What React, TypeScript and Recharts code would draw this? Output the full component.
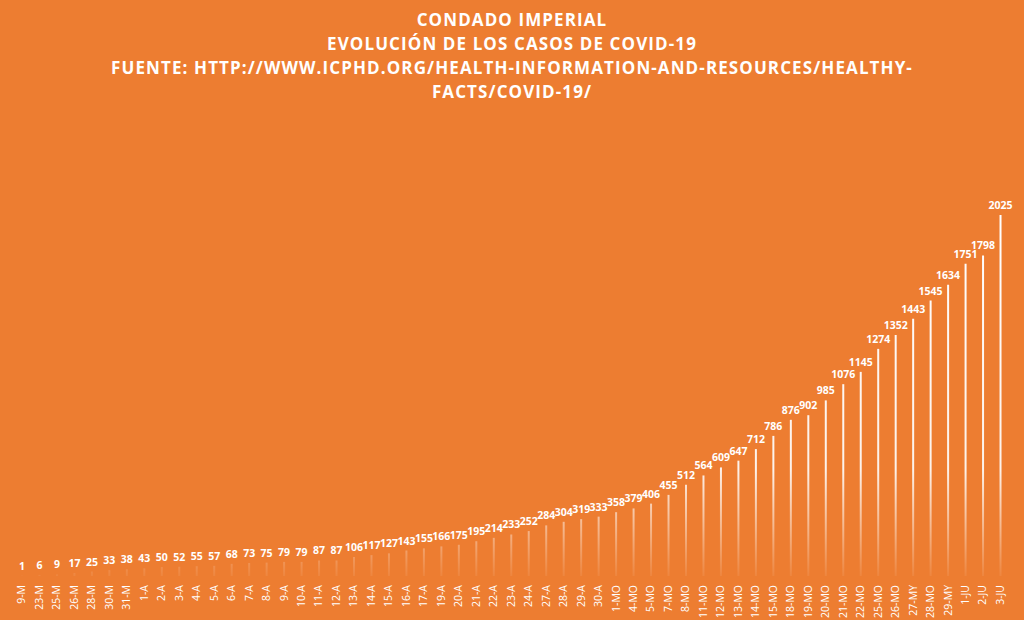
import React from 'react';
import { BarChart, Bar, XAxis, YAxis, LabelList } from 'recharts';

const fechas = [
  '9-M', '23-M', '25-M', '26-M', '28-M', '30-M', '31-M', '1-A', '2-A', '3-A',
  '4-A', '5-A', '6-A', '7-A', '8-A', '9-A', '10-A', '11-A', '12-A', '13-A',
  '14-A', '15-A', '16-A', '17-A', '19-A', '20-A', '21-A', '22-A', '23-A', '24-A',
  '27-A', '28-A', '29-A', '30-A', '1-MO', '4-MO', '5-MO', '7-MO', '8-MO', '11-MO',
  '12-MO', '13-MO', '14-MO', '15-MO', '18-MO', '19-MO', '20-MO', '21-MO', '22-MO', '25-MO',
  '26-MO', '27-MY', '28-MO', '29-MY', '1-JU', '2-JU', '3-JU',
];

const casos = [
  1, 6, 9, 17, 25, 33, 38, 43, 50, 52,
  55, 57, 68, 73, 75, 79, 79, 87, 87, 106,
  117, 127, 143, 155, 166, 175, 195, 214, 233, 252,
  284, 304, 319, 333, 358, 379, 406, 455, 512, 564,
  609, 647, 712, 786, 876, 902, 985, 1076, 1145, 1274,
  1352, 1443, 1545, 1634, 1751, 1798, 2025,
];

const titulo = [
  'CONDADO IMPERIAL',
  'EVOLUCIÓN DE LOS CASOS DE COVID-19',
  'FUENTE:  HTTP://WWW.ICPHD.ORG/HEALTH-INFORMATION-AND-RESOURCES/HEALTHY-',
  'FACTS/COVID-19/',
];

const data = fechas.map((f, i) => ({ fecha: f, casos: casos[i] }));

const FONT = '"Open Sans", "Liberation Sans", sans-serif';

const FechaTick = (props: any) => {
  const { x, y, payload } = props;
  return (
    <g transform={`translate(${x},${y + 1})`}>
      <text
        transform="rotate(-90)"
        textAnchor="end"
        dy="0.35em"
        fill="#ffffff"
        fontSize={10.5}
        fontFamily={FONT}
      >
        {payload.value}
      </text>
    </g>
  );
};

export default function App() {
  return (
    <div
      style={{
        position: 'absolute',
        left: 0,
        top: 0,
        width: 1024,
        height: 620,
        background: '#ED7D31',
        overflow: 'hidden',
      }}
    >
      <div
        style={{
          position: 'absolute',
          left: 0,
          top: 8,
          width: 1024,
          textAlign: 'center',
          color: '#ffffff',
          fontFamily: FONT,
          fontWeight: 700,
          fontSize: 17,
          letterSpacing: 1.1,
          lineHeight: '24px',
        }}
      >
        {titulo.map((t) => (
          <div key={t}>{t}</div>
        ))}
      </div>
      <BarChart
        width={1024}
        height={620}
        data={data}
        margin={{ top: 215, right: 15, bottom: 0, left: 13 }}
        style={{ position: 'absolute', left: 0, top: 0 }}
      >
        <defs>
          <linearGradient id="barra" x1="0" y1="215" x2="0" y2="578" gradientUnits="userSpaceOnUse">
            <stop offset="0" stopColor="#ffffff" stopOpacity={1} />
            <stop offset="0.7" stopColor="#ffffff" stopOpacity={0.9} />
            <stop offset="1" stopColor="#ffffff" stopOpacity={0.05} />
          </linearGradient>
        </defs>
        <XAxis
          dataKey="fecha"
          interval={0}
          axisLine={false}
          tickLine={false}
          height={44}
          tick={<FechaTick />}
        />
        <YAxis hide domain={[0, 2025]} />
        <Bar dataKey="casos" fill="url(#barra)" barSize={2} isAnimationActive={false}>
          <LabelList
            dataKey="casos"
            position="top"
            offset={6}
            fill="#ffffff"
            fontSize={10.5}
            fontWeight={700}
            fontFamily={FONT}
          />
        </Bar>
      </BarChart>
    </div>
  );
}
